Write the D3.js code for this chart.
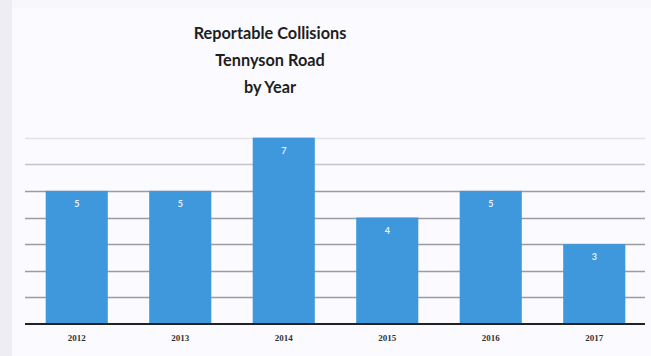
<!DOCTYPE html>
<html><head><meta charset="utf-8">
<script src="https://cdn.jsdelivr.net/npm/d3@7"></script>
<style>html,body{margin:0;padding:0;background:#f8f7fc;}svg{display:block;}</style>
</head><body>
<svg id="c" width="651" height="356"></svg>
<script>
const years = ["2012","2013","2014","2015","2016","2017"];
const collisions = [5,5,7,4,5,3];
const gridValues = [1,2,3,4,5,6,7];
const titleLines = ["Reportable Collisions","Tennyson Road","by Year"];

const W=651,H=356;
const svg=d3.select("#c");
svg.append("rect").attr("width",W).attr("height",H).attr("fill","#f8f7fc");
svg.append("rect").attr("x",0).attr("y",0).attr("width",12).attr("height",H).attr("fill","#eeedf3");
svg.append("rect").attr("x",12).attr("y",8).attr("width",W-12).attr("height",H-8).attr("fill","#fbfaff");

const x=d3.scaleBand().domain(years).range([25,646]).paddingInner(0.4).paddingOuter(0.2);
const y=d3.scaleLinear().domain([0,8]).range([324,111]);

const g=svg.append("g");
g.selectAll("line.grid").data(gridValues).join("line")
  .attr("class","grid")
  .attr("x1",25).attr("x2",645)
  .attr("y1",d=>Math.round(y(d))+0.5).attr("y2",d=>Math.round(y(d))+0.5)
  .attr("stroke",d=>d>=7?"#e2e1e8":(d>=6?"#c4c3cc":"#9c9ba3")).attr("stroke-width",1.4);

g.selectAll("rect.bar").data(collisions).join("rect")
  .attr("class","bar")
  .attr("x",(d,i)=>x(years[i])).attr("width",x.bandwidth())
  .attr("y",d=>y(d)).attr("height",d=>y(0)-y(d))
  .attr("fill","#3f97dc");

g.selectAll("text.val").data(collisions).join("text")
  .attr("class","val")
  .attr("x",(d,i)=>x(years[i])+x.bandwidth()/2)
  .attr("y",d=>y(d)+16)
  .attr("text-anchor","middle")
  .attr("font-family","Lato, sans-serif").attr("font-weight","bold").attr("font-size",9)
  .attr("fill","#e8f2fb")
  .text(d=>d);

const xAxis=d3.axisBottom(x).tickSize(0).tickPadding(11);
const ax=svg.append("g").attr("transform","translate(0,324)").call(xAxis);
ax.select(".domain").attr("d","M25,0H645").attr("stroke","#222").attr("stroke-width",2);
ax.selectAll("text").attr("font-family","'Liberation Serif', serif").attr("font-weight","bold")
  .attr("font-size",9).attr("fill","#333");

svg.append("g").selectAll("text").data(titleLines).join("text")
  .attr("x",270).attr("y",(d,i)=>39+i*27)
  .attr("text-anchor","middle")
  .attr("font-family","Lato, sans-serif").attr("font-weight","bold").attr("font-size",16.3)
  .attr("fill","#1e1e1e")
  .text(d=>d);
</script>
</body></html>
